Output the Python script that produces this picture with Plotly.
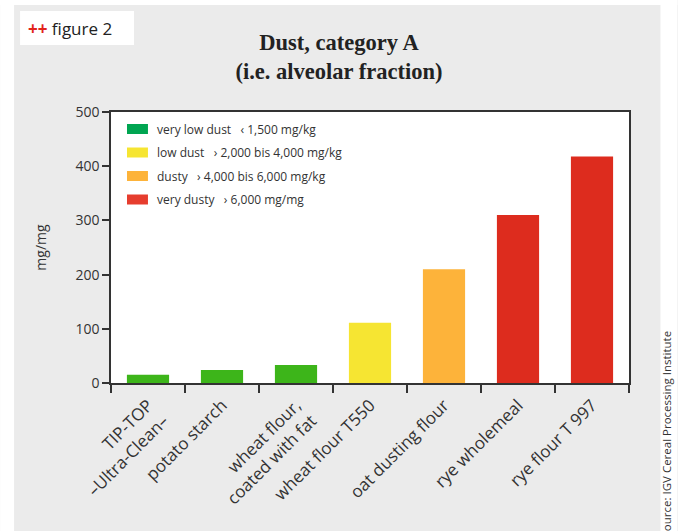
import plotly.graph_objects as go

# Products and measured dust values (mg/mg)
products = [
    "TIP-TOP<br>–Ultra-Clean–",
    "potato starch",
    "wheat flour,<br>coated with fat",
    "wheat flour T550",
    "oat dusting flour",
    "rye wholemeal",
    "rye flour T 997",
]
dust_values = [15, 24, 33, 111, 210, 310, 418]
dust_class = ["very low", "very low", "very low", "low", "dusty", "very dusty", "very dusty"]

# Dust classes for the key
class_names = ["very low", "low", "dusty", "very dusty"]
class_labels = [
    "very low dust\u00a0\u00a0 ‹ 1,500 mg/kg",
    "low dust\u00a0\u00a0 › 2,000 bis 4,000 mg/kg",
    "dusty\u00a0\u00a0 › 4,000 bis 6,000 mg/kg",
    "very dusty\u00a0\u00a0 › 6,000 mg/mg",
]
bar_colors = {"very low": "#3db51a", "low": "#f6e532", "dusty": "#fdb33a", "very dusty": "#dd2c1e"}
key_colors = {"very low": "#00a551", "low": "#f6e532", "dusty": "#fdb33a", "very dusty": "#e63d2e"}

W, H = 678, 531
L, R, T, B = 111, 629.5, 112, 383
TEXT = "#333333"
SANS = "Open Sans"


def px_x(px):
    return (px - L) / (R - L)


def px_y(py):
    return (B - py) / (B - T)


fig = go.Figure(
    go.Bar(
        x=products,
        y=dust_values,
        marker=dict(color=[bar_colors[c] for c in dust_class], line=dict(width=0)),
        width=0.57,
        showlegend=False,
    )
)

shapes = []
annotations = []

# white page edges around the grey panel
for x0, x1, y0, y1 in [(0, 14, 0, H), (0, W, 0, 5), (661, W, 0, H)]:
    shapes.append(dict(type="rect", xref="paper", yref="paper",
                       x0=px_x(x0), x1=px_x(x1), y0=px_y(y0), y1=px_y(y1),
                       fillcolor="white", line=dict(width=0), layer="below"))

# figure tag box
shapes.append(dict(type="rect", xref="paper", yref="paper",
                   x0=px_x(20), x1=px_x(134), y0=px_y(11), y1=px_y(45),
                   fillcolor="white", line=dict(width=0), layer="below"))
annotations.append(dict(xref="paper", yref="paper", x=px_x(26), y=px_y(28),
                        xanchor="left", yanchor="middle", showarrow=False,
                        text="<span style='color:#e2231a'><b>++</b></span> figure 2",
                        font=dict(family=SANS, size=17, color="#222222")))

# key
key_y = [129, 152.5, 176, 199.5]
for name, label, ky in zip(class_names, class_labels, key_y):
    shapes.append(dict(type="rect", xref="paper", yref="paper",
                       x0=px_x(127), x1=px_x(148), y0=px_y(ky - 5), y1=px_y(ky + 5),
                       fillcolor=key_colors[name], line=dict(width=0)))
    annotations.append(dict(xref="paper", yref="paper", x=px_x(155), y=px_y(ky),
                            xanchor="left", yanchor="middle", showarrow=False,
                            text=label, font=dict(family=SANS, size=12, color=TEXT)))

# source note along the right edge
annotations.append(dict(xref="paper", yref="paper", x=px_x(668), y=px_y(434),
                        xanchor="center", yanchor="middle", showarrow=False, textangle=-90,
                        text="Source: IGV Cereal Processing Institute",
                        font=dict(family=SANS, size=11.5, color=TEXT)))

fig.update_layout(
    width=W, height=H,
    margin=dict(l=L, r=W - R, t=T, b=H - B, pad=0),
    paper_bgcolor="#ebebeb",
    plot_bgcolor="white",
    title=dict(text="<b>Dust, category A<br>(i.e. alveolar fraction)</b>",
               x=0.5, xref="container", xanchor="center",
               y=1 - 50 / H, yref="container", yanchor="top",
               font=dict(family="Liberation Serif", size=22.5, color="#222222")),
    shapes=shapes,
    annotations=annotations,
    bargap=0.43,
)

fig.update_xaxes(
    type="category", tickson="boundaries", ticks="outside", ticklen=8, tickwidth=1.5,
    tickcolor=TEXT, tickangle=-45, showline=True, linewidth=1.5, linecolor=TEXT,
    mirror=True, showgrid=False, ticklabelstandoff=4,
    tickfont=dict(family=SANS, size=17, color=TEXT),
)
fig.update_yaxes(
    range=[0, 500], dtick=100, ticks="outside", ticklen=7, tickwidth=1.5, tickcolor=TEXT,
    showline=True, linewidth=1.5, linecolor=TEXT, mirror=True, showgrid=False, zeroline=False,
    tickfont=dict(family=SANS, size=14, color=TEXT),
    title=dict(text="mg/mg", font=dict(family=SANS, size=14, color=TEXT), standoff=26),
)

fig.write_html("out.html")
